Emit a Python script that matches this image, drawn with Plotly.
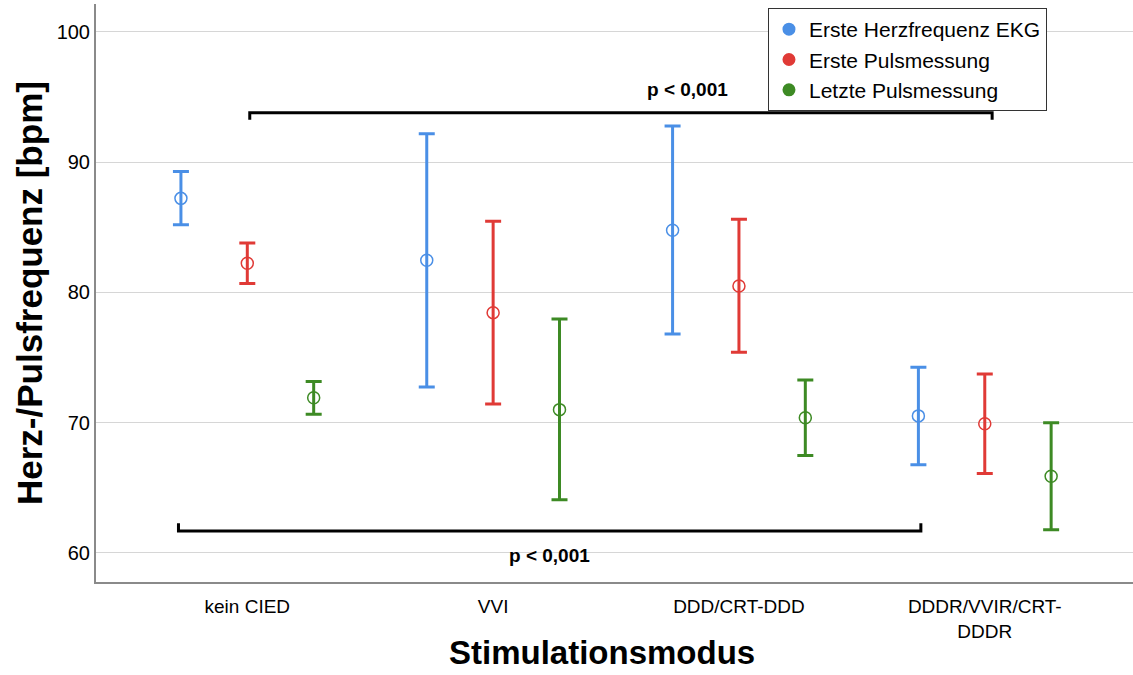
import plotly.graph_objects as go

categories = ["kein CIED", "VVI", "DDD/CRT-DDD", "DDDR/VVIR/CRT-<br>DDDR"]
series_names = ["Erste Herzfrequenz EKG", "Erste Pulsmessung", "Letzte Pulsmessung"]

ekg_mean = [87.22, 82.46, 84.77, 70.51]
ekg_upper = [89.28, 92.19, 92.78, 74.24]
ekg_lower = [85.20, 72.73, 76.80, 66.76]

puls1_mean = [82.23, 78.44, 80.49, 69.90]
puls1_upper = [83.79, 85.46, 85.61, 73.72]
puls1_lower = [80.68, 71.43, 75.40, 66.08]

puls2_mean = [71.90, 70.99, 70.37, 65.87]
puls2_upper = [73.16, 77.96, 73.27, 69.99]
puls2_lower = [70.63, 64.06, 67.46, 61.76]

y_ticks = [60, 70, 80, 90, 100]
p_label = "p < 0,001"

colors = ["#4a8fe6", "#e03a36", "#3d8a24"]
offsets = [-0.27, 0.0, 0.27]
FONT = "Liberation Sans, Arial, Helvetica, sans-serif"

fig = go.Figure()
series = [(ekg_mean, ekg_upper, ekg_lower),
          (puls1_mean, puls1_upper, puls1_lower),
          (puls2_mean, puls2_upper, puls2_lower)]

for name, (m, up, lo), c, off in zip(series_names, series, colors, offsets):
    xs = [i + off for i in range(len(categories))]
    fig.add_trace(go.Scatter(
        x=xs, y=m, mode="markers", showlegend=False, name=name,
        marker=dict(symbol="circle-open", size=12, color=c, line=dict(width=1.5, color=c)),
        error_y=dict(type="data", symmetric=False,
                     array=[u - v for u, v in zip(up, m)],
                     arrayminus=[v - l for v, l in zip(m, lo)],
                     color=c, thickness=3, width=8),
    ))
    # legend entry
    fig.add_trace(go.Scatter(
        x=[None], y=[None], mode="markers", name=name, showlegend=True,
        marker=dict(symbol="circle", size=15, color=c, line=dict(width=2, color="white")),
    ))

# significance brackets
line = dict(color="black", width=3)
top_y, top_tick = 93.8, 93.25
fig.add_shape(type="path", xref="x", yref="y",
              path=f"M 0.01 {top_tick} L 0.01 {top_y} L 3.03 {top_y} L 3.03 {top_tick}",
              line=line)
bot_y, bot_tick = 61.67, 62.26
fig.add_shape(type="path", xref="x", yref="y",
              path=f"M -0.28 {bot_tick} L -0.28 {bot_y} L 2.74 {bot_y} L 2.74 {bot_tick}",
              line=line)

fig.add_annotation(x=1.79, y=95.55, xref="x", yref="y", text=f"<b>{p_label}</b>",
                   showarrow=False, font=dict(size=19, color="black", family=FONT))
fig.add_annotation(x=1.23, y=59.75, xref="x", yref="y", text=f"<b>{p_label}</b>",
                   showarrow=False, font=dict(size=19, color="black", family=FONT))

# axis titles
fig.add_annotation(x=-0.0646, y=0.5, xref="paper", yref="paper",
                   text="<b>Herz-/Pulsfrequenz [bpm]</b>", textangle=-90,
                   showarrow=False, xanchor="center", yanchor="middle",
                   font=dict(size=35, color="black", family=FONT))
fig.add_annotation(x=0.488, y=-0.122, xref="paper", yref="paper",
                   text="<b>Stimulationsmodus</b>",
                   showarrow=False, xanchor="center", yanchor="middle",
                   font=dict(size=33, color="black", family=FONT))

fig.update_layout(
    width=1133, height=675,
    margin=dict(l=96, r=0, t=4, b=93),
    plot_bgcolor="white", paper_bgcolor="white",
    font=dict(family=FONT, color="black"),
    showlegend=True,
    legend=dict(x=0.648, y=0.993, xanchor="left", yanchor="top",
                bgcolor="white", bordercolor="#333333", borderwidth=1,
                font=dict(size=21, color="black", family=FONT),
                tracegroupgap=0, itemwidth=30),
    xaxis=dict(range=[-0.6155, 3.603], tickvals=list(range(len(categories))),
               ticktext=categories, showgrid=False, zeroline=False,
               showline=True, linecolor="#8a8a8a", linewidth=2,
               ticks="", ticklabelstandoff=6,
               tickfont=dict(size=19, color="black", family=FONT)),
    yaxis=dict(range=[57.75, 102.15], tickvals=y_ticks, showgrid=True,
               gridcolor="#d6d6d6", gridwidth=1, zeroline=False,
               showline=True, linecolor="#8a8a8a", linewidth=2,
               ticks="", tickfont=dict(size=20, color="black", family=FONT)),
)

fig.write_html("out.html")
